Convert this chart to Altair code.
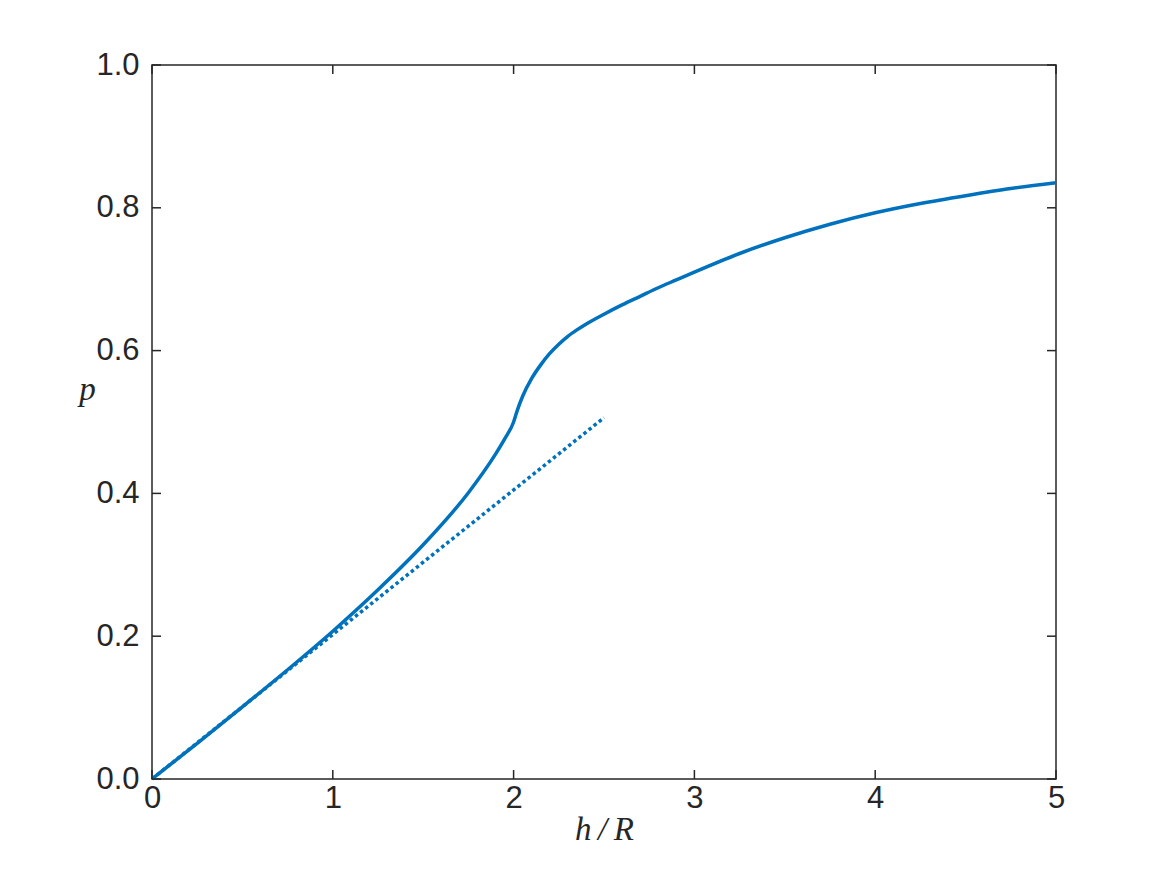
import altair as alt
import pandas as pd

# solid curve
h_solid = [0, 0.25, 0.5, 0.75, 1.0, 1.25, 1.5, 1.75, 1.9, 1.95, 2.0, 2.02, 2.05, 2.1, 2.15, 2.2, 2.25, 2.3,
           2.35, 2.4, 2.5, 2.6, 2.7, 2.8, 2.9, 3.0, 3.25, 3.5, 3.75, 4.0, 4.25, 4.5, 4.75, 5.0]
p_solid = [0, 0.050, 0.101, 0.153, 0.207, 0.265, 0.328, 0.401, 0.455, 0.476, 0.500, 0.516, 0.536, 0.561,
           0.580, 0.596, 0.609, 0.620, 0.629, 0.637, 0.651, 0.664, 0.676, 0.688, 0.699, 0.710, 0.736,
           0.758, 0.777, 0.793, 0.806, 0.817, 0.827, 0.835]

# dotted line
h_dot = [0, 2.5]
p_dot = [0, 0.506]

x_ticks = [0, 1, 2, 3, 4, 5]
y_ticks = [0.0, 0.2, 0.4, 0.6, 0.8, 1.0]

W, H = 904, 714
BLUE = "#0072BD"
AX = "#262626"
FONT = "Liberation Sans"
FS = 31
TFONT = "Liberation Serif"

solid = pd.DataFrame({"h": h_solid, "p": p_solid})
dot = pd.DataFrame({"h": h_dot, "p": p_dot})
xt = pd.DataFrame({"h": x_ticks})
yt = pd.DataFrame({"p": y_ticks})

xs = alt.Scale(domain=[0, 5], nice=False, zero=False)
ys = alt.Scale(domain=[0, 1], nice=False, zero=False)

xaxis = alt.Axis(values=x_ticks, format="d", ticks=False, domain=False, grid=False, labelFlush=False,
                 labelFont=FONT, labelFontSize=FS, labelColor=AX, labelPadding=4,
                 title="h\u2009/\u2009R", titleFont=TFONT, titleFontStyle="italic",
                 titleFontWeight="normal", titleFontSize=33, titleColor=AX, titlePadding=0)
yaxis = alt.Axis(values=y_ticks, format=".1f", ticks=False, domain=False, grid=False, labelFlush=False,
                 labelFont=FONT, labelFontSize=FS, labelColor=AX, labelPadding=13,
                 title="p", titleFont=TFONT, titleFontStyle="italic",
                 titleFontWeight="normal", titleFontSize=33, titleColor=AX,
                 titleAngle=0, titleX=-65, titleY=324, titleAlign="center", titleBaseline="middle")

line_solid = alt.Chart(solid).mark_line(color=BLUE, strokeWidth=3.5, interpolate="monotone").encode(
    x=alt.X("h:Q", scale=xs, axis=xaxis),
    y=alt.Y("p:Q", scale=ys, axis=yaxis),
)
line_dot = alt.Chart(dot).mark_line(color=BLUE, strokeWidth=3.5, strokeDash=[3.5, 3]).encode(
    x=alt.X("h:Q", scale=xs),
    y=alt.Y("p:Q", scale=ys),
)

TL = 9
tick_b = alt.Chart(xt).mark_rule(color=AX, strokeWidth=1.5).encode(
    x=alt.X("h:Q", scale=xs), y=alt.value(H), y2=alt.value(H - TL))
tick_t = alt.Chart(xt).mark_rule(color=AX, strokeWidth=1.5).encode(
    x=alt.X("h:Q", scale=xs), y=alt.value(0), y2=alt.value(TL))
tick_l = alt.Chart(yt).mark_rule(color=AX, strokeWidth=1.5).encode(
    y=alt.Y("p:Q", scale=ys), x=alt.value(0), x2=alt.value(TL))
tick_r = alt.Chart(yt).mark_rule(color=AX, strokeWidth=1.5).encode(
    y=alt.Y("p:Q", scale=ys), x=alt.value(W), x2=alt.value(W - TL))

chart = alt.layer(line_dot, line_solid, tick_b, tick_t, tick_l, tick_r).properties(
    width=W, height=H,
    autosize=alt.AutoSizeParams(type="none"),
    padding={"left": 144, "top": 57, "right": 100, "bottom": 100},
).configure(background="white").configure_view(stroke=AX, strokeWidth=1.5)

chart.save("out.html", embed_options={"renderer": "svg", "actions": False})
